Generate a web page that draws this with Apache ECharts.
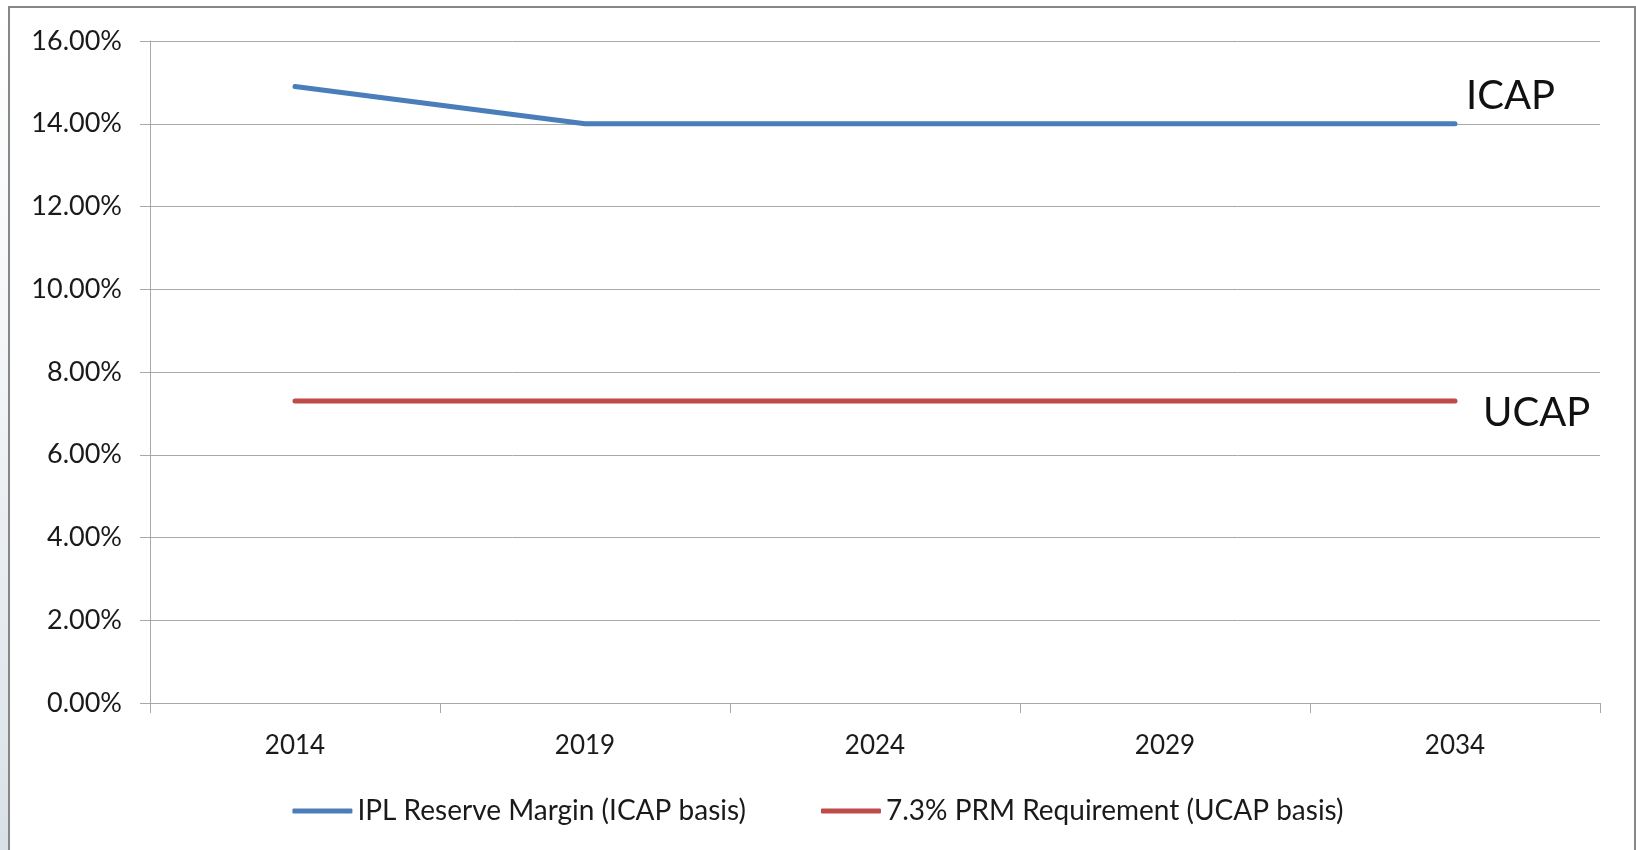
<!DOCTYPE html>
<html>
<head>
<meta charset="utf-8">
<script src="https://cdn.jsdelivr.net/npm/echarts@6/dist/echarts.min.js"></script>
<style>
  html, body { margin: 0; padding: 0; width: 1636px; height: 850px; overflow: hidden; }
  body { background: linear-gradient(to bottom, #ffffff 0%, #f4f6f8 40%, #d9e1e8 100%); position: relative; }
  #frame { position: absolute; left: 8px; top: 6px; width: 1624px; height: 900px; border: 2px solid #878787; background: #fff; }
  #chart { position: absolute; left: 0; top: 0; width: 1636px; height: 850px; }
</style>
</head>
<body>
<div id="frame"></div>
<div id="chart"></div>
<script>
// data
const years = ['2014', '2019', '2024', '2029', '2034'];
const icapMargin = [14.9, 14.0, 14.0, 14.0, 14.0];
const prmRequirement = [7.3, 7.3, 7.3, 7.3, 7.3];
const seriesNames = ['IPL Reserve Margin (ICAP basis)', '7.3% PRM Requirement (UCAP basis)'];

const chart = echarts.init(document.getElementById('chart'));
const font = 'Lato, "Open Sans", sans-serif';
const gridGray = '#a8a8a8';

const option = {
  animation: false,
  textStyle: { fontFamily: font, color: '#1a1a1a' },
  grid: { left: 150, right: 36, top: 41, bottom: 147 },
  legend: {
    bottom: 20,
    left: 'center',
    itemWidth: 60,
    itemHeight: 5,
    itemGap: 75,
    icon: 'roundRect',
    textStyle: { fontSize: 28, fontFamily: font, color: '#1a1a1a' },
    data: seriesNames
  },
  xAxis: {
    type: 'category',
    data: years,
    boundaryGap: true,
    axisLine: { lineStyle: { color: gridGray, width: 1 } },
    axisTick: { show: true, length: 10, lineStyle: { color: gridGray } },
    axisLabel: { fontSize: 26, margin: 30, color: '#1a1a1a' }
  },
  yAxis: {
    type: 'value',
    min: 0,
    max: 16,
    interval: 2,
    axisLine: { show: true, lineStyle: { color: gridGray, width: 1 } },
    axisTick: { show: true, length: 10, lineStyle: { color: gridGray } },
    axisLabel: {
      fontSize: 27,
      margin: 28,
      color: '#1a1a1a',
      formatter: v => v.toFixed(2) + '%'
    },
    splitLine: { lineStyle: { color: gridGray, width: 1 } }
  },
  series: [
    {
      name: seriesNames[0],
      type: 'line',
      data: icapMargin,
      symbol: 'none',
      color: '#4a7ebb',
      lineStyle: { width: 5, color: '#4a7ebb', cap: 'round' },
      endLabel: {
        show: true,
        formatter: 'ICAP',
        fontSize: 40,
        fontFamily: font,
        color: '#111',
        distance: 0,
        offset: [11, -28]
      }
    },
    {
      name: seriesNames[1],
      type: 'line',
      data: prmRequirement,
      symbol: 'none',
      color: '#be4b48',
      lineStyle: { width: 5, color: '#be4b48', cap: 'round' },
      endLabel: {
        show: true,
        formatter: 'UCAP',
        fontSize: 40,
        fontFamily: font,
        color: '#111',
        distance: 0,
        offset: [28, 12]
      }
    }
  ]
};

chart.setOption(option);
window.addEventListener('resize', () => chart.resize());
</script>
</body>
</html>
